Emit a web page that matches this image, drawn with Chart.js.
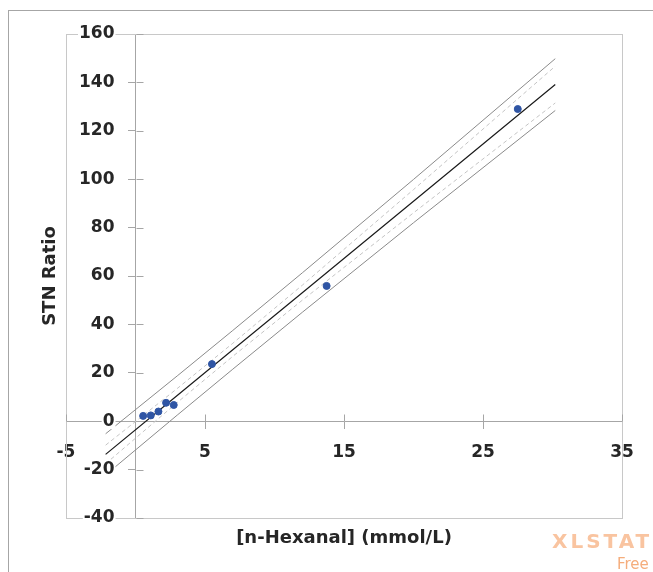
<!DOCTYPE html>
<html>
<head>
<meta charset="utf-8">
<title>STN Ratio vs n-Hexanal</title>
<script src="https://cdn.jsdelivr.net/npm/chart.js@4.4.1/dist/chart.umd.min.js"></script>
<style>
  html, body { margin: 0; padding: 0; background: #fff; }
  #wrap { position: relative; width: 653px; height: 572px; overflow: hidden; }
  #frame { position: absolute; left: 8px; top: 10px; width: 660px; height: 580px;
           border-left: 1px solid #a6a6a6; border-top: 1px solid #a6a6a6; }
  #chart { position: absolute; left: 0; top: 0; }
  .mark { position: absolute; font-family: "DejaVu Sans", sans-serif; white-space: nowrap; }
  #brand { left: 552px; top: 531px; font-size: 20px; line-height: 20px; font-weight: bold;
           letter-spacing: 3px; color: #f9c4a0; }
  #free { left: 617px; top: 557px; font-size: 15px; line-height: 15px; color: #f5ad7c; }
</style>
</head>
<body>
<div id="wrap">
  <div id="frame"></div>
  <canvas id="chart" width="653" height="572"></canvas>
  <div class="mark" id="brand">XLSTAT</div>
  <div class="mark" id="free">Free</div>
</div>
<script>
// calibration standards
var hexanal = [0.55, 1.1, 1.65, 2.2, 2.75, 5.5, 13.75, 27.5];
var stnRatio = [2.2, 2.4, 4.0, 7.6, 6.7, 23.6, 55.9, 129.0];

// regression line and 95% bands, taken at a few x positions
var bandX = [-2.15, 3, 7, 12, 20, 30.2];
var fitY = [-13.7, 10.6, 29.5, 53.1, 90.9, 139.1];
var predUpper = [-5.2, 18.7, 37.5, 61.3, 99.9, 149.8];
var predLower = [-22.2, 2.5, 21.5, 45.0, 82.0, 128.4];
var confUpper = [-9.9, 13.5, 32.2, 56.2, 95.7, 146.7];
var confLower = [-17.6, 7.7, 26.8, 50.0, 86.1, 131.5];

var xTicks = [-5, 5, 15, 25, 35];
var yTicks = [-40, -20, 0, 20, 40, 60, 80, 100, 120, 140, 160];

var FONT = '"DejaVu Sans", sans-serif';
var TEXT = '#262626';
var AXIS = '#a6a6a6';

function pairs(xs, ys) {
  var out = [];
  for (var i = 0; i < xs.length; i++) out.push({x: xs[i], y: ys[i]});
  return out;
}

function lineSet(label, ys, color, width, dash) {
  return {
    type: 'scatter', label: label, data: pairs(bandX, ys), showLine: true,
    borderColor: color, borderWidth: width, borderDash: dash || [],
    pointRadius: 0, pointHoverRadius: 0, fill: false, order: 2
  };
}

// light box round the plot area
var plotFrame = {
  id: 'plotFrame',
  beforeDatasetsDraw: function(chart) {
    var a = chart.chartArea, ctx = chart.ctx;
    ctx.save();
    ctx.strokeStyle = '#c8c8c8';
    ctx.lineWidth = 1;
    ctx.strokeRect(Math.round(a.left) + 0.5, Math.round(a.top) + 0.5,
                   Math.round(a.right - a.left), Math.round(a.bottom - a.top));
    ctx.restore();
  }
};

// y labels sit left of the crossing axis, on a white patch over the bands
var yLabels = {
  id: 'yLabels',
  afterDatasetsDraw: function(chart) {
    var xs = chart.scales.x, ys = chart.scales.y, ctx = chart.ctx;
    var right = xs.getPixelForValue(0) - 21;
    ctx.save();
    ctx.font = 'bold 17px ' + FONT;
    ctx.textAlign = 'right';
    ctx.textBaseline = 'middle';
    yTicks.forEach(function(v) {
      var p = ys.getPixelForValue(v);
      var label = String(v);
      var w = ctx.measureText(label).width;
      ctx.fillStyle = '#ffffff';
      ctx.fillRect(right - w - 1, p - 8, w + 2, 16);
      ctx.fillStyle = TEXT;
      ctx.fillText(label, right, p);
    });
    ctx.restore();
  }
};

// the tick marks cross the axes, chart.js only draws the outer half
var innerTicks = {
  id: 'innerTicks',
  afterDraw: function(chart) {
    var xs = chart.scales.x, ys = chart.scales.y, ctx = chart.ctx;
    var x0 = Math.round(xs.getPixelForValue(0)) + 0.5;
    var y0 = Math.round(ys.getPixelForValue(0)) + 0.5;
    ctx.save();
    ctx.strokeStyle = AXIS;
    ctx.lineWidth = 1;
    ctx.beginPath();
    xTicks.forEach(function(v) {
      var p = Math.round(xs.getPixelForValue(v)) + 0.5;
      ctx.moveTo(p, y0); ctx.lineTo(p, y0 - 7);
    });
    yTicks.forEach(function(v) {
      var p = Math.round(ys.getPixelForValue(v)) + 0.5;
      ctx.moveTo(x0, p); ctx.lineTo(x0 + 7, p);
    });
    ctx.stroke();
    ctx.restore();
  }
};

new Chart(document.getElementById('chart'), {
  type: 'scatter',
  data: {
    datasets: [
      {
        label: 'STN Ratio', data: pairs(hexanal, stnRatio),
        backgroundColor: '#2f55a4', borderColor: '#2f55a4', borderWidth: 1,
        pointRadius: 3.5, pointHoverRadius: 3.5, order: 1
      },
      lineSet('Model', fitY, '#1a1a1a', 1.2),
      lineSet('Pred. upper', predUpper, '#8a8a8a', 1),
      lineSet('Pred. lower', predLower, '#8a8a8a', 1),
      lineSet('Conf. upper', confUpper, '#c4c4c4', 1, [4, 3]),
      lineSet('Conf. lower', confLower, '#c4c4c4', 1, [4, 3])
    ]
  },
  options: {
    responsive: false,
    animation: false,
    devicePixelRatio: 1,
    layout: { padding: { top: 34, right: 31, bottom: 0, left: 0 } },
    plugins: {
      legend: { display: false },
      tooltip: { enabled: false },
      title: {
        display: true, text: 'STN Ratio', position: 'left', fullSize: false,
        color: TEXT, font: { family: FONT, size: 18, weight: 'bold' },
        padding: { top: 40, bottom: 4.4 }
      },
      subtitle: {
        display: true, text: '[n-Hexanal] (mmol/L)', position: 'bottom', fullSize: false,
        color: TEXT, font: { family: FONT, size: 18, weight: 'bold' },
        padding: { top: 9.7, bottom: 22.7 }
      }
    },
    scales: {
      x: {
        type: 'linear', min: -5, max: 35,
        position: { y: 0 },
        afterBuildTicks: function(axis) {
          axis.ticks = xTicks.map(function(v) { return { value: v }; });
        },
        grid: { drawOnChartArea: false, drawTicks: true, tickLength: 7, color: AXIS },
        border: { color: AXIS, width: 1 },
        ticks: {
          padding: 14, maxRotation: 0, autoSkip: false, color: TEXT,
          font: { family: FONT, size: 17, weight: 'bold' }
        }
      },
      y: {
        type: 'linear', min: -40, max: 160,
        position: { x: 0 },
        afterBuildTicks: function(axis) {
          axis.ticks = yTicks.map(function(v) { return { value: v }; });
        },
        grid: { drawOnChartArea: false, drawTicks: true, tickLength: 7, color: AXIS },
        border: { color: AXIS, width: 1 },
        ticks: { display: false }
      }
    }
  },
  plugins: [plotFrame, yLabels, innerTicks]
});
</script>
</body>
</html>
